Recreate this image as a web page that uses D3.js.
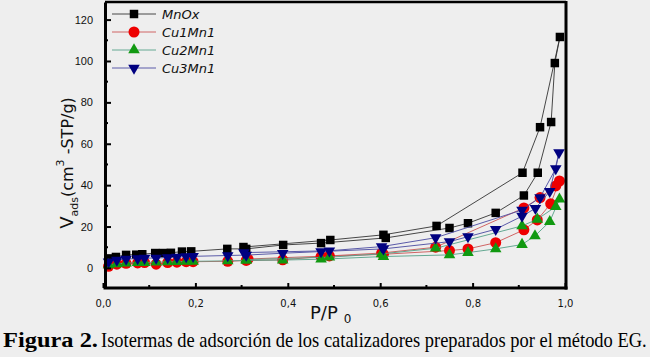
<!DOCTYPE html>
<html>
<head>
<meta charset="utf-8">
<script src="https://cdn.jsdelivr.net/npm/d3@7"></script>
<style>
    body { margin: 0; background: #eeeeee; }
    svg { display: block; }
</style>
</head>
<body>
<div id="chart"></div>
<script>
// P/P0 , V ads  (adsorption branch then desorption branch)
var mnox = [
    [0.012, 4.6], [0.028, 5.3], [0.05, 6.3], [0.072, 6.4], [0.085, 6.6], [0.113, 7.2],
    [0.13, 7.2], [0.147, 7.3], [0.171, 7.9], [0.191, 8.0], [0.269, 9.2], [0.31, 9.2],
    [0.39, 11.1], [0.472, 12.0], [0.612, 14.5], [0.75, 19.3], [0.79, 21.6], [0.85, 26.6],
    [0.911, 35], [0.941, 46], [0.970, 70.5], [0.978, 99], [0.989, 111.6],
    [0.946, 68], [0.908, 46], [0.722, 20.3], [0.607, 16], [0.492, 13.5], [0.304, 10.1]
];
var cu1mn1 = [
    [0.012, 0.8], [0.03, 1.8], [0.05, 2.2], [0.075, 2.4], [0.09, 2.6], [0.115, 1.8],
    [0.14, 2.6], [0.16, 2.8], [0.18, 3.0], [0.195, 3.0], [0.27, 3.2], [0.31, 3.6],
    [0.389, 3.9], [0.472, 5.5], [0.607, 6.6], [0.75, 8.4], [0.79, 9.2], [0.85, 12.2],
    [0.911, 18.4], [0.94, 23.2], [0.969, 31], [0.988, 42],
    [0.98, 39.6], [0.946, 34], [0.911, 29], [0.72, 10], [0.603, 7.2], [0.49, 5.8], [0.314, 4.3]
];
var cu2mn1 = [
    [0.012, 1.5], [0.03, 2.0], [0.05, 2.3], [0.075, 2.5], [0.09, 2.6], [0.115, 2.8],
    [0.14, 2.9], [0.16, 3.0], [0.18, 3.1], [0.195, 3.2], [0.27, 3.4], [0.31, 3.6],
    [0.389, 3.8], [0.472, 4.2], [0.607, 5.5], [0.75, 6.3], [0.79, 7.4], [0.85, 9.2],
    [0.907, 11.3], [0.935, 15.5], [0.967, 22.4], [0.988, 33.2],
    [0.98, 29.6], [0.94, 23.5], [0.907, 20.3], [0.72, 9.5], [0.603, 6.8], [0.49, 5.2], [0.31, 4.0]
];
var cu3mn1 = [
    [0.012, 3.0], [0.03, 3.8], [0.05, 4.3], [0.075, 4.5], [0.09, 4.7], [0.115, 4.8],
    [0.14, 5.0], [0.16, 5.2], [0.18, 5.5], [0.195, 5.6], [0.27, 6.0], [0.31, 6.2],
    [0.389, 7.1], [0.472, 7.9], [0.607, 9.2], [0.75, 12.7], [0.79, 15.1], [0.85, 18.7],
    [0.907, 25], [0.936, 28.8], [0.967, 37], [0.987, 55.7],
    [0.98, 48], [0.946, 34], [0.907, 28], [0.72, 14.6], [0.603, 10.3], [0.49, 8.3], [0.305, 7.4]
];

var seriesNames = ['MnOx', 'Cu1Mn1', 'Cu2Mn1', 'Cu3Mn1'];
var xTicks = [0, 0.2, 0.4, 0.6, 0.8, 1.0];
var yTicks = [0, 20, 40, 60, 80, 100, 120];
var caption = 'Isotermas de adsorción de los catalizadores preparados por el método EG.';

var width = 650,
    height = 357;

var series = [
    { name: seriesNames[0], data: mnox, fill: '#000000', line: '#333333', shape: d3.symbolSquare, size: 72, rot: 0 },
    { name: seriesNames[1], data: cu1mn1, fill: '#ee0000', line: '#cc5555', shape: d3.symbolCircle, size: 95, rot: 0 },
    { name: seriesNames[2], data: cu2mn1, fill: '#119911', line: '#55a088', shape: d3.symbolTriangle, size: 58, rot: 0 },
    { name: seriesNames[3], data: cu3mn1, fill: '#000080', line: '#4a4aa0', shape: d3.symbolTriangle, size: 58, rot: 180 }
];

var x = d3.scaleLinear().domain([0, 1]).range([103, 565]);
var y = d3.scaleLinear().domain([-9.7, 128.5]).range([288, 2]);

var svg = d3
    .select('#chart')
    .append('svg')
    .attr('width', width)
    .attr('height', height);

svg.append('rect')
    .attr('width', width)
    .attr('height', height)
    .attr('fill', '#eeeeee');

var plot = svg.append('g');

var line = d3.line()
    .x(d => x(d[0]))
    .y(d => y(d[1]));

series.forEach(function (s) {
    plot.append('path')
        .datum(s.data)
        .attr('d', line)
        .attr('fill', 'none')
        .attr('stroke', s.line)
        .attr('stroke-width', 0.9);

    plot.selectAll(null)
        .data(s.data)
        .enter()
        .append('path')
        .attr('d', d3.symbol().type(s.shape).size(s.size))
        .attr('transform', d => `translate(${x(d[0])},${y(d[1])}) rotate(${s.rot})`)
        .attr('fill', s.fill);
});

// frame
var fx0 = 105, fx1 = 566, fy0 = 2, fy1 = 288;
svg.append('line').attr('x1', fx0).attr('x2', fx1).attr('y1', fy0).attr('y2', fy0)
    .attr('stroke', '#000').attr('stroke-width', 2.5);
svg.append('line').attr('x1', fx1).attr('x2', fx1).attr('y1', fy0 - 1).attr('y2', fy1 + 1.5)
    .attr('stroke', '#000').attr('stroke-width', 3);

// y axis
var yAxis = d3.axisLeft(y)
    .tickValues(yTicks)
    .tickSizeInner(-6)
    .tickSizeOuter(0)
    .tickPadding(12);

var gy = svg.append('g')
    .attr('transform', `translate(${fx0},0)`)
    .call(yAxis);
gy.select('.domain').attr('stroke-width', 3);
gy.selectAll('.tick line').attr('stroke-width', 2);
gy.selectAll('.tick text')
    .style('font-family', 'Liberation Sans, Arial, sans-serif')
    .style('font-size', '11px')
    .attr('fill', '#111');
gy.selectAll('.minor')
    .data([10, 30, 50, 70, 90, 110])
    .enter()
    .append('line')
    .attr('class', 'minor')
    .attr('x1', 0)
    .attr('x2', 3)
    .attr('y1', d => y(d))
    .attr('y2', d => y(d))
    .attr('stroke', '#000')
    .attr('stroke-width', 2);

// x axis
var xAxis = d3.axisBottom(x)
    .tickValues(xTicks)
    .tickSizeInner(-5)
    .tickSizeOuter(0)
    .tickPadding(12)
    .tickFormat(d => d3.format('.1f')(d).replace('.', ','));

var gx = svg.append('g')
    .attr('transform', `translate(0,${fy1})`)
    .call(xAxis);
gx.select('.domain').attr('stroke-width', 3).attr('d', `M${fx0 - 1.5},0H${fx1 + 1.5}`);
gx.selectAll('.tick line').attr('stroke-width', 2);
gx.selectAll('.tick text')
    .style('font-family', 'DejaVu Sans, sans-serif')
    .style('font-size', '10px')
    .attr('fill', '#111');
gx.selectAll('.minor')
    .data([0.1, 0.3, 0.5, 0.7, 0.9])
    .enter()
    .append('line')
    .attr('class', 'minor')
    .attr('x1', d => x(d))
    .attr('x2', d => x(d))
    .attr('y1', 0)
    .attr('y2', -3)
    .attr('stroke', '#000')
    .attr('stroke-width', 2);

// legend
var legend = svg.append('g')
    .attr('transform', 'translate(112,14)');
series.forEach(function (s, i) {
    var row = legend.append('g').attr('transform', `translate(0,${i * 18})`);
    row.append('line')
        .attr('x1', 0).attr('x2', 44)
        .attr('stroke', s.line)
        .attr('stroke-width', 0.9);
    row.append('path')
        .attr('d', d3.symbol().type(s.shape).size(s.size))
        .attr('transform', `translate(22,0) rotate(${s.rot})`)
        .attr('fill', s.fill);
    row.append('text')
        .attr('x', 50)
        .attr('y', 5)
        .text(s.name)
        .style('font-family', 'DejaVu Sans, sans-serif')
        .style('font-style', 'italic')
        .style('font-size', '13px')
        .attr('fill', '#111');
});

// axis titles
var yt = svg.append('text')
    .attr('transform', 'translate(73,163) rotate(-90)')
    .attr('text-anchor', 'middle')
    .style('font-family', 'DejaVu Sans, sans-serif')
    .style('font-size', '16px')
    .attr('fill', '#111');
yt.append('tspan').style('font-size', '18px').text('V');
yt.append('tspan').attr('dy', 5).style('font-size', '11px').text('ads');
yt.append('tspan').attr('dy', -5).text('(cm');
yt.append('tspan').attr('dy', -9).style('font-size', '11px').text('3');
yt.append('tspan').attr('dy', 9).text(' -STP/g)');

var xt = svg.append('text')
    .attr('x', 310)
    .attr('y', 319)
    .style('font-family', 'DejaVu Sans, sans-serif')
    .style('font-size', '18px')
    .attr('fill', '#111');
xt.append('tspan').text('P/P');
xt.append('tspan').attr('dx', 6).attr('dy', 4).style('font-size', '12px').text('0');

// caption: condensed serif, squeezed horizontally to fit the width
function captionPart(str, x0, w, bold) {
    var t = svg.append('text')
        .style('font-family', 'Liberation Serif, Times New Roman, serif')
        .style('font-weight', bold ? 'bold' : 'normal')
        .style('font-size', '20px')
        .attr('fill', '#000')
        .text(str);
    var natural = t.node().getComputedTextLength();
    t.attr('transform', `translate(${x0},347) scale(${w / natural},1)`);
}
captionPart('Figura 2.', 3, 95, true);
captionPart(caption, 101, 546, false);
</script>
</body>
</html>
